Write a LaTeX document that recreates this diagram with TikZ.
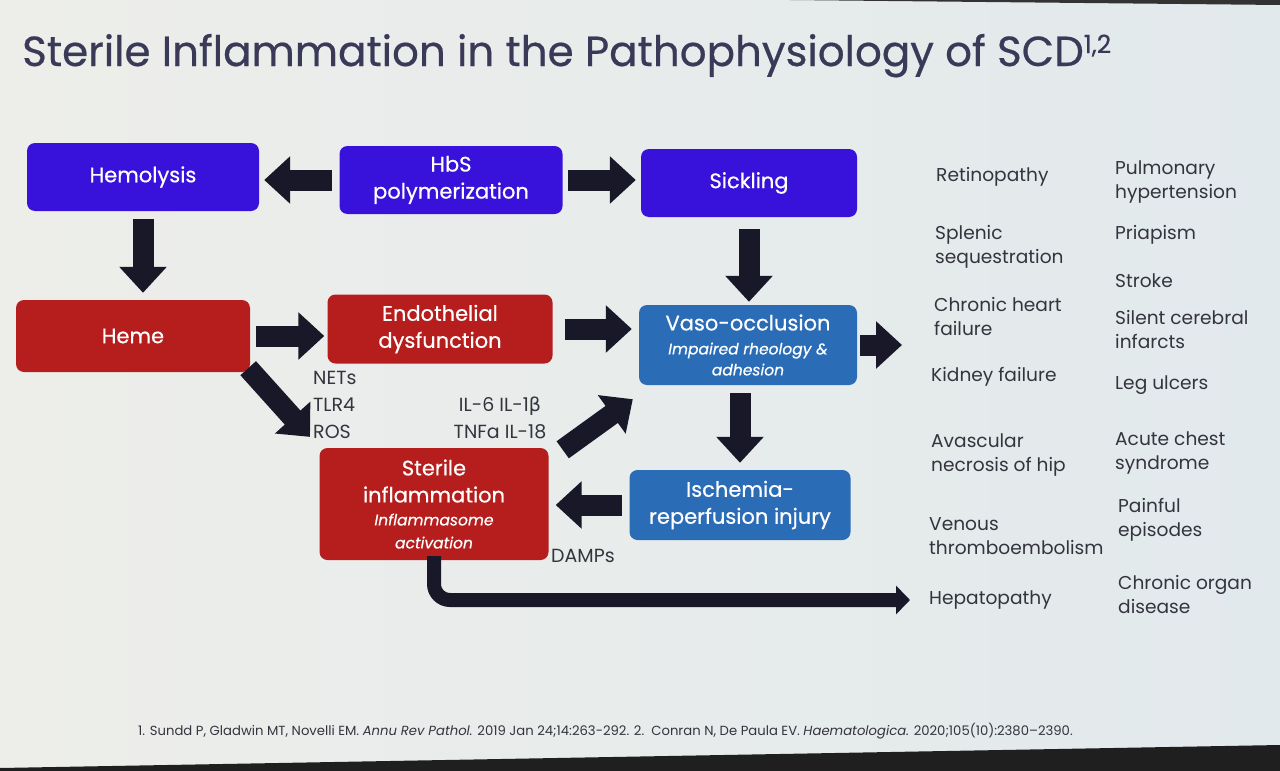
\documentclass[tikz,border=0pt]{standalone}
\usepackage{fontspec}
\setmainfont{Poppins}
\newfontfamily\medf[FakeBold=0.5]{Poppins}
\newfontfamily\grk{DejaVu Sans}
\usetikzlibrary{arrows.meta}
\definecolor{bgl}{HTML}{EDEEEA}
\definecolor{bgr}{HTML}{E2E9EC}
\definecolor{vio}{RGB}{56,18,218}
\definecolor{redb}{RGB}{182,30,30}
\definecolor{blub}{RGB}{42,108,182}
\definecolor{arr}{RGB}{24,24,40}
\definecolor{txt}{RGB}{52,52,62}
\definecolor{ttl}{RGB}{58,58,88}
\newcommand\subf{\fontsize{15.5}{20}\selectfont\itshape}
\tikzset{
  box/.style={rounded corners=8pt, fill=#1, text=white, align=center, inner sep=0pt,
    font=\medf\fontsize{21}{27}\selectfont},
  barrow/.style={draw=arr, line width=21pt, -{Triangle[width=46pt,length=26pt]}},
  larrow/.style={draw=arr, line width=14pt, rounded corners=16pt, -{Triangle[width=28pt,length=14pt]}},
  lbl/.style={text=txt, align=left, anchor=west, inner sep=0pt, font=\fontsize{18.6}{24}\selectfont},
  mlbl/.style={text=txt, align=center, inner sep=0pt, font=\fontsize{19}{27}\selectfont}
}
\begin{document}
\begin{tikzpicture}[x=1pt,y=-1pt]
\useasboundingbox (0,0) rectangle (1280,771);
\shade[left color=bgl, right color=bgr] (0,0) rectangle (1280,771);
\fill[black!88] (0,768) -- (1280,745) -- (1280,771) -- (0,771) -- cycle;
\fill[black!80] (790,0) -- (1280,0) -- (1280,5) -- cycle;

% title
\node[anchor=base west, inner sep=0pt, text=ttl, font=\medf\fontsize{42}{48}\selectfont] (title) at (22,66)
  {Sterile Inflammation in the Pathophysiology of SCD\raisebox{13pt}{\fontsize{25}{25}\selectfont 1,2}};

% boxes
\node[box=vio, minimum width=232pt, minimum height=68pt] (hemo) at (143,177) {Hemolysis};
\node[box=vio, minimum width=223pt, minimum height=68pt] (hbs) at (451,180) {HbS\\polymerization};
\node[box=vio, minimum width=216pt, minimum height=68pt] (sick) at (749,183) {Sickling};
\node[box=redb, minimum width=234pt, minimum height=72pt] (heme) at (133,336) {Heme};
\node[box=redb, minimum width=225pt, minimum height=69pt] (endo) at (440,329) {Endothelial\\dysfunction};
\node[box=blub, minimum width=218pt, minimum height=80pt] (vaso) at (748,345)
  {Vaso-occlusion\\[-3pt]{\subf Impaired rheology \&}\\[-6pt]{\subf adhesion}};
\node[box=blub, minimum width=221pt, minimum height=70pt] (isch) at (740,505) {Ischemia-\\reperfusion injury};
\node[box=redb, minimum width=229pt, minimum height=112pt] (ster) at (434,504)
  {Sterile\\inflammation\\[-4pt]{\subf Inflammasome}\\[-4pt]{\subf activation}};

% labels
\node[lbl, font=\fontsize{19}{27}\selectfont] (mol) at (313,405) {NETs\\TLR4\\ROS};
\node[mlbl] (cyt) at (500,418) {IL-6 IL-1{\grk β}\\TNFa IL-18};
\node[mlbl] (damps) at (583,556) {DAMPs};

% outcomes column 1
\node[lbl] (o1) at (936,177) {Retinopathy};
\node[lbl] (o2) at (935,247) {Splenic\\sequestration};
\node[lbl] (o3) at (934,317) {Chronic heart\\failure};
\node[lbl] (o4) at (931,377) {Kidney failure};
\node[lbl] (o5) at (931,455) {Avascular\\necrosis of hip};
\node[lbl] (o6) at (929,536) {Venous\\thromboembolism};
\node[lbl] (o7) at (929,600) {Hepatopathy};
% outcomes column 2
\node[lbl] (p1) at (1115,182) {Pulmonary\\hypertension};
\node[lbl] (p2) at (1115,235) {Priapism};
\node[lbl] (p3) at (1115,281) {Stroke};
\node[lbl] (p4) at (1115,330) {Silent cerebral\\infarcts};
\node[lbl] (p5) at (1115,385) {Leg ulcers};
\node[lbl] (p6) at (1115,453) {Acute chest\\syndrome};
\node[lbl] (p7) at (1118,520) {Painful\\episodes};
\node[lbl] (p8) at (1118,594) {Chronic organ\\disease};

% arrows
\draw[barrow, shorten <=7pt, shorten >=5pt] (hbs.west) -- (hemo.east |- hbs.west);
\draw[barrow, shorten <=5pt, shorten >=5pt] (hbs.east) -- (sick.west |- hbs.east);
\draw[barrow, shorten <=8pt, shorten >=7pt] (hemo.south) -- (hemo.south |- heme.north);
\draw[barrow, shorten <=6pt, shorten >=3pt] (heme.east) -- (endo.west |- heme.east);
\draw[barrow, shorten <=12pt, shorten >=7pt] (endo.east) -- (vaso.west |- endo.east);
\draw[barrow, shorten <=12pt, shorten >=3pt] (sick.south) -- (sick.south |- vaso.north);
\draw[barrow, shorten <=8pt, shorten >=7pt] (vaso.south -| isch.north) -- (isch.north);
\draw[barrow, shorten <=7pt, shorten >=7pt] (isch.west) -- (ster.east |- isch.west);
\coordinate (vend) at (902,345);
\draw[barrow, shorten <=3pt] (vaso.east) -- (vend);
\draw[barrow] ([xshift=-2pt,yshift=4pt]heme.south east) -- ([xshift=-3pt,yshift=2pt]mol.south west);
\draw[barrow] ([xshift=14pt,yshift=-2pt]ster.north east) -- ([xshift=-6pt,yshift=-14pt]vaso.south west);
\coordinate (lend) at (910,600);
\draw[larrow] ([yshift=4pt]ster.south) |- (lend);

% footnote
\node[anchor=west, inner sep=0pt, text=txt, font=\fontsize{13.2}{16}\selectfont] (foot) at (138,731)
  {1. Sundd P, Gladwin MT, Novelli EM. \textit{Annu Rev Pathol.} 2019 Jan 24;14:263-292. 2.\ \ Conran N, De Paula EV. \textit{Haematologica.} 2020;105(10):2380--2390.};
\end{tikzpicture}
\end{document}
